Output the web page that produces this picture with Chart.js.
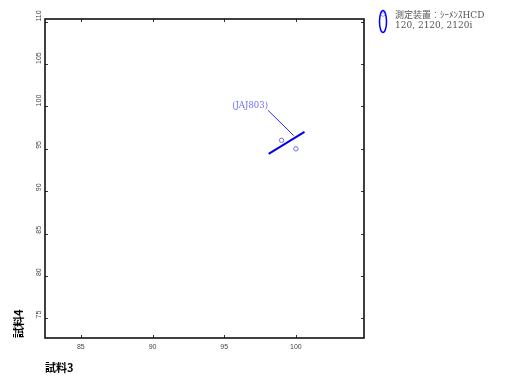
<!DOCTYPE html>
<html>
<head>
<meta charset="utf-8">
<script src="https://cdn.jsdelivr.net/npm/chart.js@4/dist/chart.umd.min.js"></script>
<style>
  html, body { margin: 0; padding: 0; background: #fff; }
  #wrap { width: 507px; height: 376px; position: relative; }
</style>
</head>
<body>
<div id="wrap"><canvas id="c"></canvas></div>
<script>
// Axis ranges and tick values
const xRange = [82.5, 104.75];
const yRange = [72.7, 110.3];
const xTicks = [85, 90, 95, 100];
const yTicks = [75, 80, 85, 90, 95, 100, 105, 110];

// Measured samples (試料3 vs 試料4)
const sampleX = [99, 100];
const sampleY = [96, 95];

// Fitted line end points
const fitX = [98.1, 100.6];
const fitY = [94.4, 97.0];

// Callout leader from the label to the control sample
const calloutX = [98.05, 99.85];
const calloutY = [99.55, 96.55];
const calloutLabel = '(JAJ803)';

// Texts
const xTitle = '試料3';
const yTitle = '試料4';
const legendLines = ['測定装置：ｼｰﾒﾝｽHCD', '120, 2120, 2120i'];

const serif = '"DejaVu Serif", "Noto Sans CJK JP", serif';
const tickFamily = '"Liberation Sans", Arial, sans-serif';

const toPts = (xs, ys) => xs.map((x, i) => ({ x: x, y: ys[i] }));

// Frame, inward tick marks, rotated y tick labels, callout label, y title and legend
const decor = {
  id: 'decor',
  afterDraw(chart) {
    const { ctx, chartArea: a, scales: { x, y } } = chart;
    ctx.save();
    // inward tick marks on all four sides
    ctx.strokeStyle = '#333';
    ctx.lineWidth = 1;
    ctx.beginPath();
    x.ticks.forEach(t => {
      const px = Math.round(x.getPixelForValue(t.value)) + 0.5;
      ctx.moveTo(px, a.bottom); ctx.lineTo(px, a.bottom - 3);
      ctx.moveTo(px, a.top); ctx.lineTo(px, a.top + 3);
    });
    y.ticks.forEach(t => {
      const py = Math.round(y.getPixelForValue(t.value)) + 0.5;
      ctx.moveTo(a.left, py); ctx.lineTo(a.left + 3, py);
      ctx.moveTo(a.right, py); ctx.lineTo(a.right - 3, py);
    });
    ctx.stroke();
    // frame
    ctx.strokeStyle = '#111';
    ctx.lineWidth = 1.6;
    ctx.strokeRect(a.left, a.top, a.right - a.left, a.bottom - a.top);

    // y tick labels, reading upward from each tick
    ctx.font = '7px ' + tickFamily;
    ctx.fillStyle = '#444';
    ctx.textAlign = 'left';
    ctx.textBaseline = 'middle';
    y.ticks.forEach(t => {
      ctx.save();
      ctx.translate(a.left - 6, y.getPixelForValue(t.value));
      ctx.rotate(-Math.PI / 2);
      ctx.fillText(String(t.value), 0, 0);
      ctx.restore();
    });

    // callout label
    ctx.font = '8.5px ' + serif;
    ctx.fillStyle = '#6b6bff';
    ctx.textAlign = 'right';
    ctx.textBaseline = 'middle';
    ctx.fillText(calloutLabel, x.getPixelForValue(calloutX[0]), y.getPixelForValue(calloutY[0]) - 4.5);

    // y axis title, bottom aligned and rotated
    ctx.save();
    ctx.translate(19, a.bottom);
    ctx.rotate(-Math.PI / 2);
    ctx.font = 'bold 11px "Noto Sans CJK JP", sans-serif';
    ctx.fillStyle = '#000';
    ctx.textAlign = 'left';
    ctx.textBaseline = 'middle';
    ctx.fillText(yTitle, 0, 0);
    ctx.restore();

    // legend: tall ellipse with a small marker, two text lines
    const lx = a.right + 19, ly = 21.5;
    ctx.strokeStyle = '#0000ff';
    ctx.lineWidth = 1.5;
    ctx.beginPath();
    ctx.ellipse(lx, ly, 3.5, 11, 0, 0, Math.PI * 2);
    ctx.stroke();
    ctx.strokeStyle = '#8080ff';
    ctx.lineWidth = 0.8;
    ctx.beginPath();
    ctx.arc(lx, ly - 7, 1.8, 0, Math.PI * 2);
    ctx.stroke();
    ctx.font = '9px ' + serif;
    ctx.fillStyle = '#555';
    ctx.textAlign = 'left';
    ctx.textBaseline = 'middle';
    ctx.fillText(legendLines[0], lx + 12, 15.5);
    ctx.fillText(legendLines[1], lx + 12, 25.5);
    ctx.restore();
  }
};

new Chart(document.getElementById('c'), {
  type: 'scatter',
  data: {
    datasets: [
      {
        data: toPts(fitX, fitY),
        showLine: true,
        borderColor: '#0000ee',
        borderWidth: 2,
        pointRadius: 0
      },
      {
        data: toPts(calloutX, calloutY),
        showLine: true,
        borderColor: '#2b2bff',
        borderWidth: 1,
        pointRadius: 0
      },
      {
        data: toPts(sampleX, sampleY),
        showLine: false,
        pointStyle: 'circle',
        pointRadius: 2.2,
        borderWidth: 1,
        borderColor: '#6b6bff',
        backgroundColor: 'rgba(0,0,0,0)'
      }
    ]
  },
  options: {
    responsive: true,
    maintainAspectRatio: false,
    animation: false,
    events: [],
    layout: { padding: { left: 39, right: 143, top: 19, bottom: 0 } },
    plugins: { legend: { display: false }, tooltip: { enabled: false } },
    scales: {
      x: {
        type: 'linear',
        min: xRange[0], max: xRange[1],
        afterBuildTicks: s => { s.ticks = xTicks.map(v => ({ value: v })); },
        afterFit: s => { s.height = 38; },
        grid: { display: false, drawTicks: false, tickLength: 0 },
        border: { display: false },
        ticks: { font: { family: tickFamily, size: 7 }, color: '#444', padding: 5, maxRotation: 0 },
        title: {
          display: true, text: xTitle, align: 'start',
          font: { family: '"Noto Sans CJK JP", sans-serif', size: 11, weight: 'bold' },
          color: '#000', padding: { top: 0, bottom: 2 }
        }
      },
      y: {
        type: 'linear',
        min: yRange[0], max: yRange[1],
        afterBuildTicks: s => { s.ticks = yTicks.map(v => ({ value: v })); },
        afterFit: s => { s.width = 6; },
        grid: { display: false, drawTicks: false, tickLength: 0 },
        border: { display: false },
        ticks: { display: false }
      }
    }
  },
  plugins: [decor]
});
</script>
</body>
</html>
